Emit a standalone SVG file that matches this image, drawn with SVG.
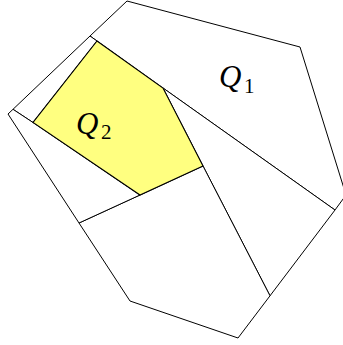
<svg xmlns="http://www.w3.org/2000/svg" width="343" height="345" viewBox="0 0 343 345">
<style>
.r{fill:#ffffff;stroke:#000;stroke-width:1;stroke-linejoin:miter}
.y{fill:#ffff80;stroke:#000;stroke-width:1.1}
.q{font-family:"Liberation Serif","DejaVu Serif",serif;font-style:italic;font-size:31px;fill:#000}
.s{font-family:"Liberation Serif","DejaVu Serif",serif;font-size:21px;fill:#000}
</style>
<rect width="343" height="345" fill="#ffffff"/>
<g id="regions">
<polygon id="Q1-region" class="r" points="127,1 300,47 346,195 335,210 163,88 97,41 90,36"/>
<polygon id="strip" class="r" points="90,36 97,41 33,122.5 13,109.3"/>
<polygon id="right-region" class="r" points="163,88 335,210 270,295.8 203,166"/>
<polygon id="bottom-region" class="r" points="203,166 270,295.8 238,338 130,301 79,223 140,195"/>
<polygon id="left-region" class="r" points="13,109.3 33,122.5 140,195 79,223 8,114"/>
</g>
<g id="Q2">
<polygon class="y" points="97,41 163,88 203,166 140,195 33,122.5"/>
</g>
<g id="label-Q1">
<text class="q" x="219" y="87">Q</text><text class="s" x="244" y="93">1</text>
</g>
<g id="label-Q2">
<text class="q" x="76" y="134">Q</text><text class="s" x="101" y="139">2</text>
</g>
</svg>
